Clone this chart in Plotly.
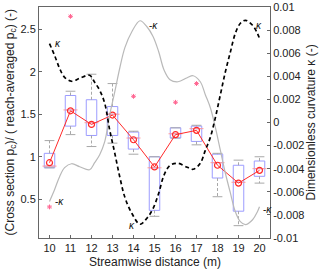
import numpy as np
import plotly.graph_objects as go

# ---- data ----
stations = [10, 11, 12, 13, 14, 15, 16, 17, 18, 19, 20]
q1 = [0.87, 1.36, 1.25, 1.25, 1.09, 0.37, 1.22, 1.18, 0.75, 0.36, 0.77]
median = [0.89, 1.55, 1.40, 1.50, 1.22, 0.87, 1.27, 1.33, 0.93, 0.70, 0.86]
q3 = [1.04, 1.72, 1.67, 1.59, 1.29, 1.00, 1.34, 1.36, 1.03, 0.90, 0.95]
upper = [1.19, 1.77, 1.97, 1.86, 1.30, 1.00, 1.34, 1.37, 1.04, 0.96, 1.00]
lower = [0.87, 1.26, 1.12, 1.16, 1.03, 0.30, 1.22, 1.14, 0.53, 0.19, 0.69]
means = [0.93, 1.54, 1.38, 1.49, 1.20, 0.88, 1.26, 1.31, 0.90, 0.69, 0.84]
outlier_x = [10, 11, 14, 16, 17]
outlier_y = [0.41, 2.65, 1.71, 1.64, 1.86]

kappa_x = [10.0, 10.24, 10.48, 10.72, 11.05, 11.44, 11.91, 12.15, 12.39, 12.63,
           12.87, 13.11, 13.35, 13.59, 13.92, 14.31, 14.64, 14.93, 15.2, 15.45,
           15.74, 16.12, 16.56, 16.84, 17.18, 17.42, 17.66, 17.89, 18.13, 18.37,
           18.61, 18.85, 19.09, 19.33, 19.67, 19.9, 20.0]
kappa = [0.00683, 0.00582, 0.00469, 0.00391, 0.00357, 0.00383, 0.00409, 0.00348,
         0.00279, 0.00166, -0.00068, -0.00267, -0.00474, -0.00648, -0.00786,
         -0.00881, -0.00829, -0.00745, -0.00613, -0.00457, -0.00371, -0.00353,
         -0.00388, -0.00405, -0.00353, -0.00241, -0.00128, 0.00036, 0.00235,
         0.00435, 0.00608, 0.00772, 0.00859, 0.00885, 0.00842, 0.00772, 0.00729]

left_ticks = [0.5, 1, 1.5, 2, 2.5]
left_ticktext = ["0.5", "1", "1.5", "2", "2.5"]
right_ticks = [-0.01, -0.008, -0.006, -0.004, -0.002, 0, 0.002, 0.004, 0.006, 0.008, 0.01]
right_ticktext = ["-0.01", "-0.008", "-0.006", "-0.004", "-0.002", "0",
                  "0.002", "0.004", "0.006", "0.008", "0.01"]

x_title = "Streamwise distance (m)"
y_title = "(Cross section p<sub>c</sub>)/ ( reach-averaged p<sub>c</sub>) (-)"
y2_title = "Dimensionless curvature κ (-)"

FONT = "Liberation Sans, Arial, sans-serif"
neg_kappa = [-k for k in kappa]

fig = go.Figure()

# curvature curves (right axis)
fig.add_trace(go.Scatter(x=kappa_x, y=neg_kappa, mode="lines", yaxis="y2",
                         line=dict(color="#b9b9b9", width=1.2, shape="spline"),
                         showlegend=False, hoverinfo="skip"))
fig.add_trace(go.Scatter(x=kappa_x, y=kappa, mode="lines", yaxis="y2",
                         line=dict(color="black", width=1.7, dash="4px,3px", shape="spline"),
                         showlegend=False, hoverinfo="skip"))

# whiskers
wx, wy = [], []
for s, a, b, c, d in zip(stations, q3, upper, q1, lower):
    wx += [s, s, None, s, s, None]
    wy += [a, b, None, c, d, None]
fig.add_trace(go.Scatter(x=wx, y=wy, mode="lines",
                         line=dict(color="#a8a8a8", width=1, dash="3px,2px"),
                         showlegend=False, hoverinfo="skip"))
fig.add_trace(go.Scatter(x=stations + stations, y=upper + lower, mode="markers",
                         marker=dict(symbol="line-ew", size=7,
                                     line=dict(color="#a8a8a8", width=1)),
                         showlegend=False, hoverinfo="skip"))

# boxes
fig.add_trace(go.Box(x=stations, q1=q1, median=median, q3=q3,
                     lowerfence=q1, upperfence=q3, width=0.5,
                     fillcolor="rgba(255,255,255,0)",
                     line=dict(color="#9c9cff", width=1), whiskerwidth=0,
                     boxpoints=False, showlegend=False, hoverinfo="skip"))
# medians
fig.add_trace(go.Scatter(x=stations, y=median, mode="markers",
                         marker=dict(symbol="line-ew", size=10,
                                     line=dict(color="#ff9c9c", width=1)),
                         showlegend=False, hoverinfo="skip"))

# outliers
fig.add_trace(go.Scatter(x=outlier_x, y=outlier_y, mode="markers",
                         marker=dict(symbol="asterisk-open", size=4,
                                     line=dict(color="#ff2020", width=1)),
                         showlegend=False, hoverinfo="skip"))

# mean line
fig.add_trace(go.Scatter(x=stations, y=means, mode="lines+markers",
                         line=dict(color="#ff2a2a", width=1),
                         marker=dict(symbol="circle-open", size=6,
                                     line=dict(color="#ff2a2a", width=1.2)),
                         showlegend=False, hoverinfo="skip"))

# kappa labels
imin = int(np.argmin(kappa))
imax = int(np.argmax(kappa))
lab = dict(xref="x", yref="y2", showarrow=False,
           font=dict(family=FONT, size=10, color="#111"))
fig.add_annotation(x=kappa_x[0], y=kappa[0], text="<i>κ</i>", xanchor="left", xshift=3, **lab)
fig.add_annotation(x=kappa_x[0], y=neg_kappa[0], text="-<i>κ</i>", xanchor="left", xshift=3, **lab)
fig.add_annotation(x=kappa_x[imin], y=kappa[imin], text="<i>κ</i>", xanchor="right", xshift=-3, yshift=-1, **lab)
fig.add_annotation(x=kappa_x[imin], y=neg_kappa[imin], text="-<i>κ</i>", xanchor="left", xshift=7, yshift=-5, **lab)
fig.add_annotation(x=kappa_x[imax], y=kappa[imax], text="<i>κ</i>", xanchor="left", xshift=9, yshift=-5, **lab)
fig.add_annotation(x=kappa_x[-1], y=neg_kappa[-1], text="-<i>κ</i>", xanchor="left", xshift=1, yshift=-3, **lab)

# axis titles as paper annotations
title_font = dict(family=FONT, size=12, color="#222")
fig.add_annotation(xref="paper", yref="paper", x=0.5, y=-0.104, text=x_title,
                   showarrow=False, xanchor="center", yanchor="middle", font=title_font)
fig.add_annotation(xref="paper", yref="paper", x=-0.1255, y=0.5, text=y_title,
                   showarrow=False, textangle=-90, xanchor="center", yanchor="middle",
                   font=title_font)
fig.add_annotation(xref="paper", yref="paper", x=1.177, y=0.5, text=y2_title,
                   showarrow=False, textangle=-90, xanchor="center", yanchor="middle",
                   font=title_font)

axis_common = dict(showgrid=False, zeroline=False, showline=True, linecolor="#666",
                   linewidth=1, ticks="inside", ticklen=3, tickcolor="#666",
                   automargin=False,
                   tickfont=dict(family=FONT, size=11, color="#222"))

fig.update_layout(
    width=320, height=275,
    margin=dict(l=39, r=50, t=7, b=37),
    paper_bgcolor="white", plot_bgcolor="white",
    font=dict(family=FONT, size=11, color="#222"),
    xaxis=dict(range=[9.5, 20.5], tickvals=stations, mirror=True, **axis_common),
    yaxis=dict(range=[0.045, 2.76], tickvals=left_ticks, ticktext=left_ticktext,
               **axis_common),
    yaxis2=dict(range=[-0.01, 0.01], overlaying="y", side="right",
                tickvals=right_ticks, ticktext=right_ticktext, **axis_common),
)

fig.write_html("out.html", config={"displayModeBar": False},
               post_script="document.body.style.margin='0px';document.body.style.overflow='hidden';")
